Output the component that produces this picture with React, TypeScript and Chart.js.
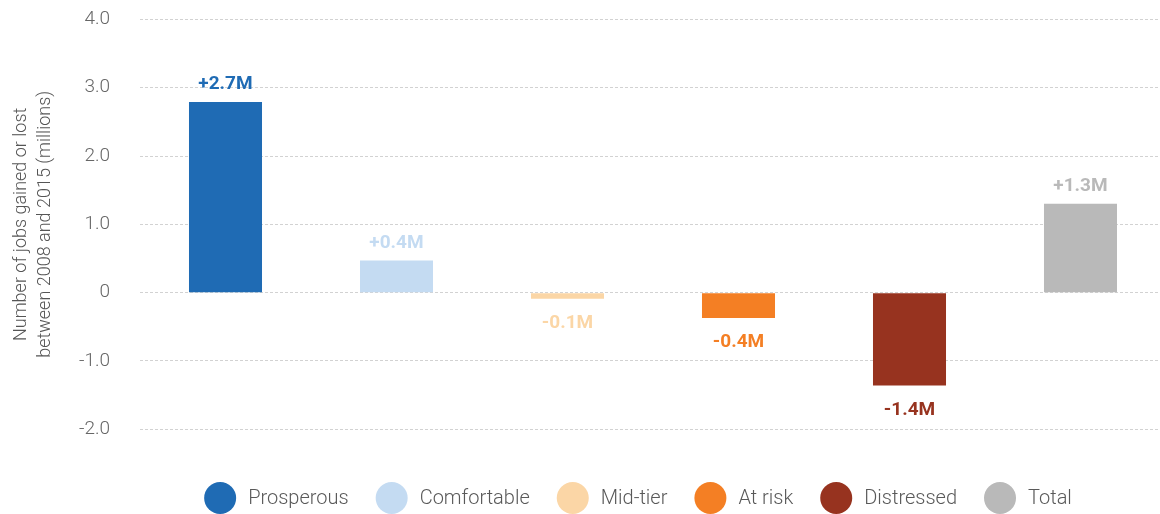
import React, { useEffect, useRef } from "react";
import { Chart, registerables } from "chart.js";

Chart.register(...registerables);

const categories = ["Prosperous", "Comfortable", "Mid-tier", "At risk", "Distressed", "Total"];
const values = [2.79, 0.47, -0.09, -0.37, -1.36, 1.3];
const valueLabels = ["+2.7M", "+0.4M", "-0.1M", "-0.4M", "-1.4M", "+1.3M"];
const colors = ["#1f6bb4", "#c4dbf2", "#fbd6a6", "#f47f24", "#97331f", "#b9b9b9"];
const yTicks = [-2, -1, 0, 1, 2, 3, 4];
const yTickLabels = ["-2.0", "-1.0", "0", "1.0", "2.0", "3.0", "4.0"];
const yTitle = ["Number of jobs gained or lost", "between 2008 and 2015 (millions)"];

const FONT = "Roboto, 'Noto Sans', sans-serif";

const valueLabelPlugin = {
  id: "valueLabels",
  afterDatasetsDraw(chart: any) {
    const ctx = chart.ctx;
    const meta = chart.getDatasetMeta(0);
    ctx.save();
    ctx.font = `700 19px ${FONT}`;
    ctx.textAlign = "center";
    ctx.textBaseline = "alphabetic";
    meta.data.forEach((bar: any, i: number) => {
      ctx.fillStyle = colors[i];
      const y = values[i] >= 0 ? bar.y - 13 : bar.y + 29;
      ctx.fillText(valueLabels[i], bar.x, y);
    });
    ctx.restore();
  },
};

const circleLegendPlugin = {
  id: "circleLegend",
  afterDraw(chart: any) {
    const ctx = chart.ctx;
    ctx.save();
    ctx.font = `300 20px ${FONT}`;
    const r = 16;
    const textGap = 12;
    const itemGap = 27;
    const widths = categories.map((c) => ctx.measureText(c).width);
    const total =
      widths.reduce((a, w) => a + 2 * r + textGap + w, 0) + itemGap * (categories.length - 1);
    let x = chart.width / 2 - total / 2 - 2;
    const cy = chart.height - r;
    ctx.textBaseline = "middle";
    ctx.textAlign = "left";
    categories.forEach((c, i) => {
      ctx.beginPath();
      ctx.arc(x + r, cy, r, 0, Math.PI * 2);
      ctx.fillStyle = colors[i];
      ctx.fill();
      ctx.fillStyle = "#595959";
      ctx.fillText(c, x + 2 * r + textGap, cy + 1);
      x += 2 * r + textGap + widths[i] + itemGap;
    });
    ctx.restore();
  },
};

export default function App() {
  const canvasRef = useRef<HTMLCanvasElement | null>(null);

  useEffect(() => {
    if (!canvasRef.current) return;
    const chart = new Chart(canvasRef.current, {
      type: "bar",
      data: {
        labels: categories,
        datasets: [
          {
            data: values,
            backgroundColor: colors,
            borderWidth: 0,
            barPercentage: 0.427,
            categoryPercentage: 1,
          },
        ],
      },
      options: {
        animation: false,
        responsive: true,
        maintainAspectRatio: false,
        layout: { padding: { left: 0, right: 106, top: 10.3, bottom: 84.7 } },
        plugins: {
          legend: { display: false },
          tooltip: { enabled: false },
        },
        scales: {
          x: { display: false },
          y: {
            min: -2,
            max: 4,
            afterBuildTicks: (scale: any) => {
              scale.ticks = yTicks.map((v) => ({ value: v }));
            },
            afterFit: (scale: any) => {
              scale.width = 132;
            },
            ticks: {
              padding: 0,
              color: "#666666",
              font: { family: FONT, size: 19, weight: "300" },
              callback: (v: any) => {
                const idx = yTicks.indexOf(Number(v));
                return idx >= 0 ? yTickLabels[idx] : "";
              },
            },
            grid: {
              color: "#d2d2d2",
              lineWidth: 1,
              drawTicks: true,
              tickLength: 30,
              tickColor: "rgba(0,0,0,0)",
            },
            border: { display: false, dash: [3, 2] },
            title: {
              display: true,
              text: yTitle,
              color: "#555555",
              font: { family: FONT, size: 18, weight: "300", lineHeight: 1.3 },
              padding: { top: 2, bottom: 0 },
            },
          },
        },
      },
      plugins: [valueLabelPlugin, circleLegendPlugin],
    });
    return () => chart.destroy();
  }, []);

  return (
    <div style={{ position: "absolute", left: 8, top: 8, width: 1152, height: 506, overflow: "hidden" }}>
      <div style={{ position: "relative", width: 1264, height: 506 }}>
        <canvas ref={canvasRef} />
      </div>
    </div>
  );
}
